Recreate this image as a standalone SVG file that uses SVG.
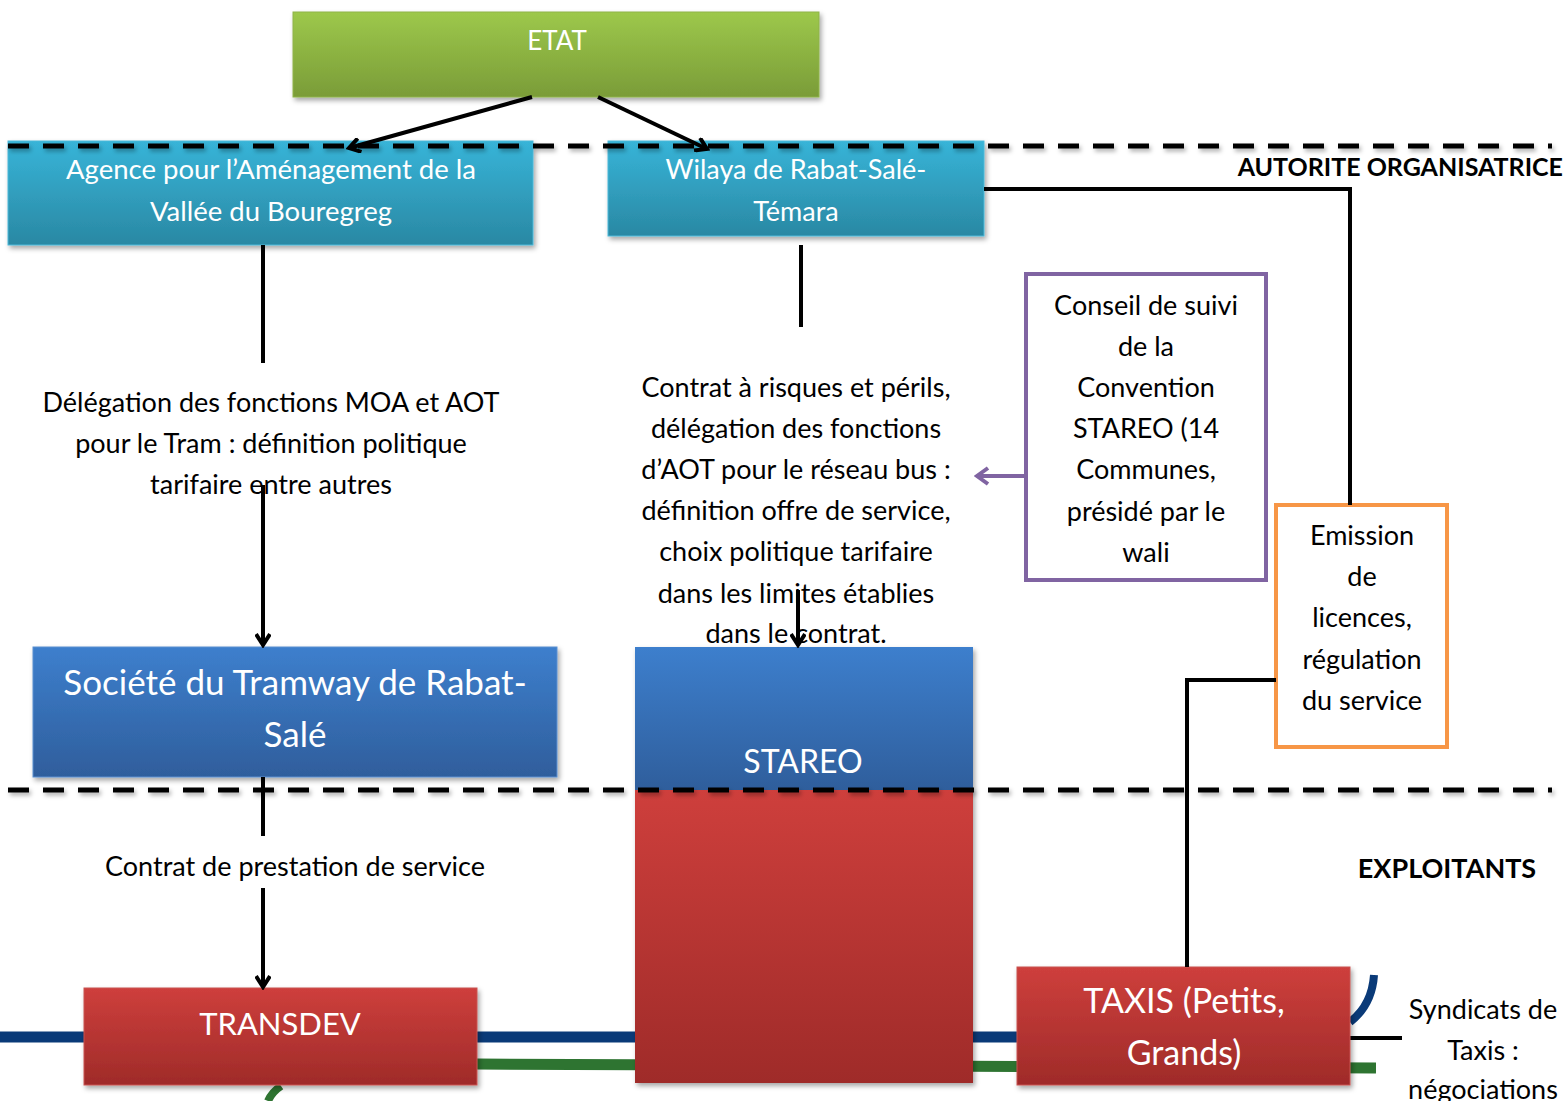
<svg xmlns="http://www.w3.org/2000/svg" width="1568" height="1101" viewBox="0 0 1568 1101">
<defs>
<style>
text{font-family:Lato,"Open Sans","DejaVu Sans",sans-serif;text-anchor:middle;}
.w{fill:#fff;}
.b{fill:#000;font-size:27px;}
.lbl{fill:#000;font-weight:bold;}
.conn{stroke:#000;stroke-width:4;fill:none;}
.dash{stroke:#000;stroke-width:5;stroke-dasharray:21 14;fill:none;}
</style>
<linearGradient id="gG" x1="0" y1="0" x2="0" y2="1"><stop offset="0" stop-color="#9dc84b"/><stop offset="1" stop-color="#7a9c38"/></linearGradient>
<linearGradient id="gC" x1="0" y1="0" x2="0" y2="1"><stop offset="0" stop-color="#37b4d8"/><stop offset="1" stop-color="#2a88a3"/></linearGradient>
<linearGradient id="gB" x1="0" y1="0" x2="0" y2="1"><stop offset="0" stop-color="#3d7fcd"/><stop offset="1" stop-color="#2f5e9c"/></linearGradient>
<linearGradient id="gR" x1="0" y1="0" x2="0" y2="1"><stop offset="0" stop-color="#ce3f3c"/><stop offset="1" stop-color="#9f2b29"/></linearGradient>
<filter id="sh" x="-5%" y="-10%" width="112%" height="130%"><feDropShadow dx="2" dy="3" stdDeviation="2.5" flood-color="#000" flood-opacity="0.35"/></filter>
<filter id="shl" filterUnits="userSpaceOnUse" x="0" y="0" width="1568" height="1101"><feDropShadow dx="2" dy="3" stdDeviation="2" flood-color="#000" flood-opacity="0.3"/></filter>
<marker id="ah" markerWidth="16" markerHeight="16" refX="13" refY="8" orient="auto" markerUnits="userSpaceOnUse"><path d="M2,1 L13,8 L2,15" fill="none" stroke="#000" stroke-width="4" stroke-linejoin="miter"/></marker>
<marker id="ahp" markerWidth="16" markerHeight="20" refX="13" refY="10" orient="auto" markerUnits="userSpaceOnUse"><path d="M2,2 L13,10 L2,18" fill="none" stroke="#8064a2" stroke-width="4"/></marker>
</defs>
<rect width="1568" height="1101" fill="#fff"/>

<g id="bus-lines">
<line x1="0" y1="1037" x2="1017" y2="1037" stroke="#0a3a78" stroke-width="11"/>
<path d="M477,1064 L1376,1068" stroke="#2e7431" stroke-width="11" fill="none"/>
<path d="M281,1086 Q272,1092 268,1101" stroke="#2e7431" stroke-width="8" fill="none"/>
<path d="M1350,1022 Q1372,1005 1374,975" stroke="#0a3a78" stroke-width="8" fill="none"/>
<line x1="1350" y1="1038" x2="1402" y2="1038" stroke="#000" stroke-width="4"/>
</g>

<g id="etat"><rect x="293" y="12" width="526" height="85" fill="url(#gG)" stroke="#8fb34a" stroke-width="1" filter="url(#sh)"/><text x="557" y="50" class="w" font-size="26">ETAT</text></g>

<g id="agence"><rect x="8" y="141" width="525" height="104" fill="url(#gC)" stroke="#4bb8d8" stroke-width="1" filter="url(#sh)"/>
<text x="271" y="179" class="w" font-size="27.5">Agence pour l’Aménagement de la</text>
<text x="271" y="221" class="w" font-size="27.5">Vallée du Bouregreg</text></g>

<g id="wilaya"><rect x="608" y="141" width="376" height="95" fill="url(#gC)" stroke="#4bb8d8" stroke-width="1" filter="url(#sh)"/>
<text x="796" y="179" class="w" font-size="27">Wilaya de Rabat-Salé-</text>
<text x="796" y="221" class="w" font-size="27">Témara</text></g>

<g id="societe"><rect x="33" y="647" width="524" height="130" fill="url(#gB)" stroke="#5a8fd0" stroke-width="1" filter="url(#sh)"/>
<text x="295" y="695" class="w" font-size="35">Société du Tramway de Rabat-</text>
<text x="295" y="747" class="w" font-size="35">Salé</text></g>

<g id="stareo"><rect x="635" y="647" width="338" height="436" fill="#c23a37" filter="url(#sh)"/>
<rect x="635" y="647" width="338" height="143" fill="url(#gB)"/>
<rect x="635" y="790" width="338" height="293" fill="url(#gR)"/>
<text x="803" y="773" class="w" font-size="32">STAREO</text></g>

<g id="transdev"><rect x="84" y="988" width="393" height="97" fill="url(#gR)" stroke="#c85250" stroke-width="1" filter="url(#sh)"/>
<text x="280" y="1035" class="w" font-size="31">TRANSDEV</text></g>

<g id="taxis"><rect x="1017" y="967" width="333" height="118" fill="url(#gR)" stroke="#c85250" stroke-width="1" filter="url(#sh)"/>
<text x="1184" y="1013" class="w" font-size="34">TAXIS (Petits,</text>
<text x="1184" y="1065" class="w" font-size="34">Grands)</text></g>

<g id="conseil"><rect x="1026" y="274" width="240" height="306" fill="#fff" stroke="#8064a2" stroke-width="4"/>
<text class="b" x="1146" y="315">Conseil de suivi</text>
<text class="b" x="1146" y="356">de la</text>
<text class="b" x="1146" y="397">Convention</text>
<text class="b" x="1146" y="438">STAREO (14</text>
<text class="b" x="1146" y="479">Communes,</text>
<text class="b" x="1146" y="521">présidé par le</text>
<text class="b" x="1146" y="562">wali</text></g>

<g id="emission"><rect x="1276" y="505" width="171" height="242" fill="#fff" stroke="#f79646" stroke-width="4"/>
<text class="b" x="1362" y="545">Emission</text>
<text class="b" x="1362" y="586">de</text>
<text class="b" x="1362" y="627">licences,</text>
<text class="b" x="1362" y="669">régulation</text>
<text class="b" x="1362" y="710">du service</text></g>

<g id="labels">
<text class="b" x="271" y="412">Délégation des fonctions MOA et AOT</text>
<text class="b" x="271" y="453">pour le Tram : définition politique</text>
<text class="b" x="271" y="494">tarifaire entre autres</text>
<text class="b" x="796" y="397">Contrat à risques et périls,</text>
<text class="b" x="796" y="438">délégation des fonctions</text>
<text class="b" x="796" y="479">d’AOT pour le réseau bus :</text>
<text class="b" x="796" y="520">définition offre de service,</text>
<text class="b" x="796" y="561">choix politique tarifaire</text>
<text class="b" x="796" y="603">dans les limites établies</text>
<text class="b" x="796" y="643">dans le contrat.</text>
<text class="b" x="295" y="876">Contrat de prestation de service</text>
<text class="b" x="1483" y="1019">Syndicats de</text>
<text class="b" x="1483" y="1060">Taxis :</text>
<text class="b" x="1483" y="1099">négociations</text>
<text class="lbl" x="1563" y="176" font-size="25" style="text-anchor:end">AUTORITE ORGANISATRICE</text>
<text class="lbl" x="1447" y="878" font-size="27">EXPLOITANTS</text>
</g>

<g id="connectors">
<line class="dash" x1="8" y1="146" x2="1552" y2="146" filter="url(#shl)"/>
<line class="dash" x1="8" y1="790" x2="1552" y2="790" filter="url(#shl)"/>
<line class="conn" x1="532" y1="97" x2="349" y2="148" marker-end="url(#ah)"/>
<line class="conn" x1="598" y1="97" x2="707" y2="149" marker-end="url(#ah)"/>
<line class="conn" x1="263" y1="245" x2="263" y2="363"/>
<line class="conn" x1="263" y1="485" x2="263" y2="645" marker-end="url(#ah)"/>
<line class="conn" x1="801" y1="245" x2="801" y2="327"/>
<line class="conn" x1="798" y1="590" x2="798" y2="645" marker-end="url(#ah)"/>
<polyline class="conn" points="984,189 1350,189 1350,505"/>
<polyline class="conn" points="1276,680 1187,680 1187,967"/>
<line class="conn" x1="263" y1="777" x2="263" y2="836"/>
<line class="conn" x1="263" y1="888" x2="263" y2="987" marker-end="url(#ah)"/>
<line x1="1026" y1="476" x2="977" y2="476" stroke="#8064a2" stroke-width="4" marker-end="url(#ahp)"/>
</g>
</svg>
